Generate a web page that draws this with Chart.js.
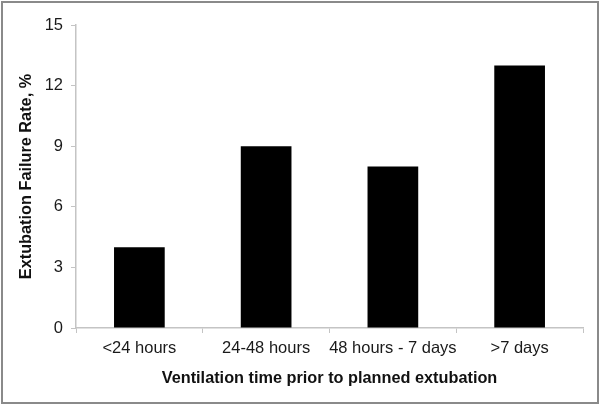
<!DOCTYPE html>
<html>
<head>
<meta charset="utf-8">
<script src="https://cdn.jsdelivr.net/npm/chart.js@4/dist/chart.umd.min.js"></script>
<style>
  html, body { margin: 0; padding: 0; background: #fff; }
  #wrap { width: 600px; height: 405px; }
</style>
</head>
<body>
<div id="wrap"><canvas id="grafico" width="600" height="405"></canvas></div>
<script>
const categorias = ['<24 hours', '24-48 hours', '48 hours - 7 days', '>7 days'];
const tasaFallo = [4, 9, 8, 13];
const ticksY = [0, 3, 6, 9, 12, 15];

const borde = {
  id: 'borde',
  afterDraw(chart) {
    const c = chart.ctx;
    c.save();
    c.strokeStyle = '#8a8a8a';
    c.lineWidth = 2;
    c.strokeRect(2, 2, chart.width - 4, chart.height - 4);
    c.restore();
  }
};

const colorEje = '#c4c4c4';

new Chart(document.querySelector('#grafico'), {
  type: 'bar',
  data: {
    labels: categorias,
    datasets: [{
      data: tasaFallo,
      backgroundColor: '#000',
      borderWidth: 0,
      categoryPercentage: 0.4,
      barPercentage: 1
    }]
  },
  options: {
    responsive: false,
    animation: false,
    events: [],
    layout: { padding: { left: 17, right: 17, top: 25, bottom: 13 } },
    plugins: { legend: { display: false }, tooltip: { enabled: false } },
    scales: {
      x: {
        afterFit: s => { s.height = 64; },
        grid: { display: true, drawOnChartArea: false, offset: true, color: colorEje, tickLength: 5 },
        border: { color: colorEje, width: 1.5 },
        ticks: { color: '#1a1a1a', font: { family: 'Liberation Sans', size: 16.5 }, padding: 6,
          maxRotation: 0, autoSkip: false },
        title: { display: true, text: 'Ventilation time prior to planned extubation', color: '#111',
          font: { family: 'Liberation Sans', size: 16.3, weight: 'bold' }, padding: { top: 6 } }
      },
      y: {
        min: 0, max: 15,
        afterFit: s => { s.width = 59; },
        afterBuildTicks: s => { s.ticks = ticksY.map(v => ({ value: v })); },
        grid: { display: true, drawOnChartArea: false, color: colorEje, tickLength: 5 },
        border: { color: colorEje, width: 1.5 },
        ticks: { color: '#1a1a1a', font: { family: 'Liberation Sans', size: 16.5 }, padding: 8 },
        title: { display: true, text: 'Extubation Failure Rate, %', color: '#111',
          font: { family: 'Liberation Sans', size: 16.3, weight: 'bold' }, padding: 0 }
      }
    }
  },
  plugins: [borde]
});
</script>
</body>
</html>
